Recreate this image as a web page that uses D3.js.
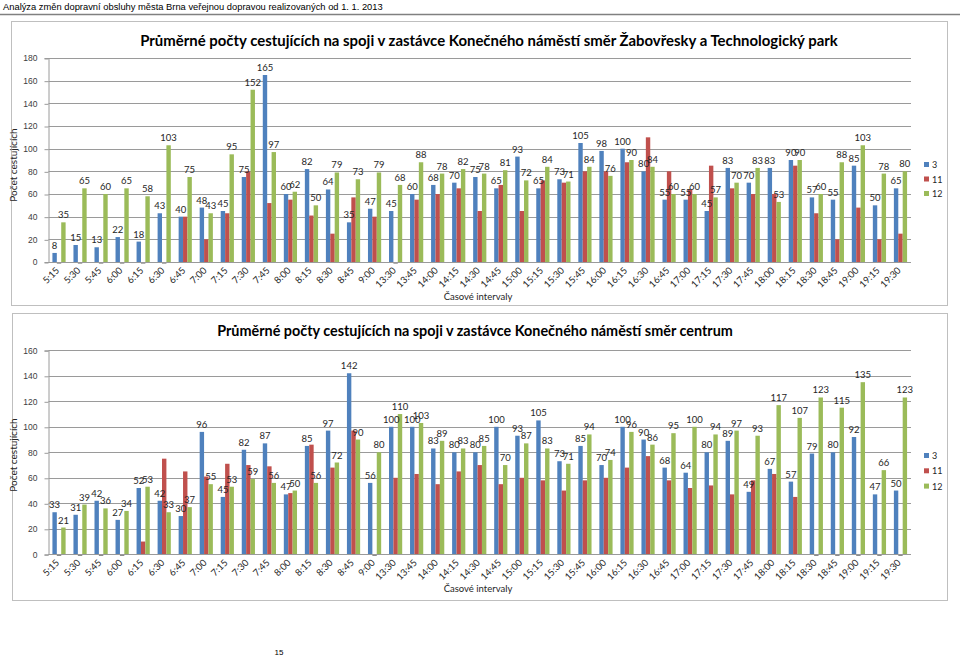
<!DOCTYPE html>
<html><head><meta charset="utf-8">
<script src="https://cdn.jsdelivr.net/npm/d3@7"></script>
<style>body{margin:0;background:#fff}svg{display:block}</style>
</head><body>
<svg id="c" width="960" height="657"></svg>
<script>
const categories = ["5:15","5:30","5:45","6:00","6:15","6:30","6:45","7:00","7:15","7:30","7:45","8:00","8:15","8:30","8:45","9:00","13:30","13:45","14:00","14:15","14:30","14:45","15:00","15:15","15:30","15:45","16:00","16:15","16:30","16:45","17:00","17:15","17:30","17:45","18:00","18:15","18:30","18:45","19:00","19:15","19:30"];
const seriesNames = ["3","11","12"];
const seriesColors = ["#4F81BD","#C0504D","#9BBB59"];
const labeledSeries = [true,false,true];

const top3  = [8,15,13,22,18,43,40,48,45,75,165,60,82,64,35,47,45,60,68,70,75,65,93,65,73,105,98,100,80,55,55,45,83,70,83,90,57,55,85,50,65];
const top11 = [0,0,0,0,0,0,40,20,43,80,52,55,41,25,57,40,0,55,60,65,45,68,45,72,70,80,80,88,110,80,64,85,65,60,60,85,43,20,48,20,25];
const top12 = [35,65,60,65,58,103,75,43,95,152,97,62,50,79,73,79,68,88,78,82,78,81,72,84,71,84,76,90,84,60,60,57,70,83,53,90,60,88,103,78,80];

const bot3  = [33,31,42,27,52,42,30,96,45,82,87,47,85,97,142,56,100,100,83,80,80,100,93,105,73,85,70,100,90,68,64,80,89,49,67,57,79,80,92,47,50];
const bot11 = [0,0,0,0,10,75,65,61,71,70,69,48,86,68,97,0,60,63,55,65,70,55,60,58,50,58,60,68,77,58,52,54,47,58,63,45,0,0,0,0,0];
const bot12 = [21,39,36,34,53,33,37,55,53,59,56,50,56,72,90,80,110,103,89,83,85,70,87,83,71,94,74,96,86,95,100,94,97,93,117,107,123,115,135,66,123];

const topTicks = [0,20,40,60,80,100,120,140,160,180];
const botTicks = [0,20,40,60,80,100,120,140,160];

const headerText = "Analýza změn dopravní obsluhy města Brna veřejnou dopravou realizovaných od 1. 1. 2013";
const topTitle = "Průměrné počty cestujících na spoji v zastávce Konečného náměstí směr Žabovřesky a Technologický park";
const botTitle = "Průměrné počty cestujících na spoji v zastávce Konečného náměstí směr centrum";
const yTitle = "Počet cestujících";
const xTitle = "Časové intervaly";
const pageNumber = "15";

const svg = d3.select("#c");
const FONT = "'Liberation Sans', Arial, sans-serif";
const CFONT = "Lato, 'Open Sans', sans-serif";

function fitText(sel, width){
  const w = sel.node().getComputedTextLength();
  const fs = parseFloat(sel.attr("font-size"));
  sel.attr("font-size", fs*width/w);
}

// header
const hdr = svg.append("text").attr("x",3).attr("y",10).attr("font-family",FONT).attr("font-size",10)
  .attr("fill","#000").text(headerText);
fitText(hdr, 380);
svg.append("line").attr("x1",0).attr("x2",960).attr("y1",14.5).attr("y2",14.5)
  .attr("stroke","#808080").attr("stroke-width",1.5);

function drawChart(o){
  const g = svg.append("g");
  g.append("rect").attr("x",o.frame[0]).attr("y",o.frame[1]).attr("width",o.frame[2]).attr("height",o.frame[3])
    .attr("fill","#fff").attr("stroke","#bfbfbf").attr("stroke-width",1);

  const x0 = d3.scaleBand().domain(categories).range([48.5,911]).paddingInner(0).paddingOuter(0);
  const bw = 4.4;
  const x1 = d3.scaleBand().domain(seriesNames).range([x0.bandwidth()/2 - bw*1.5, x0.bandwidth()/2 + bw*1.5]);
  const y = d3.scaleLinear().domain([0,o.max]).range([o.y0, o.y0-204]);

  // gridlines
  g.append("g").selectAll("line").data(o.ticks).join("line")
    .attr("x1",48.5).attr("x2",911).attr("y1",d=>Math.round(y(d))+0.5).attr("y2",d=>Math.round(y(d))+0.5)
    .attr("stroke","#9a9a9a").attr("stroke-width",1);

  // y axis
  const ya = g.append("g").attr("transform","translate(48.5,0)")
    .call(d3.axisLeft(y).tickValues(o.ticks).tickSize(4).tickPadding(7));
  ya.select(".domain").attr("stroke","#9a9a9a");
  ya.selectAll(".tick line").attr("stroke","#9a9a9a").attr("transform","translate(0,0.5)");
  ya.selectAll(".tick text").attr("font-family",FONT).attr("font-size",8.5).attr("fill","#404040");

  // bars
  const data = categories.map((c,i)=>({c, vals: o.series.map((s,k)=>({k, name: seriesNames[k], v: s[i]}))}));
  const grp = g.append("g").selectAll("g").data(data).join("g")
    .attr("transform",d=>`translate(${x0(d.c)},0)`);
  grp.selectAll("rect").data(d=>d.vals).join("rect")
    .attr("x",d=>x1(d.name)).attr("width",bw)
    .attr("y",d=>d.v>0 ? y(d.v) : y(0)+0.5)
    .attr("height",d=>d.v>0 ? y(0)-y(d.v) : 1.2)
    .attr("fill",d=>d.v>0 ? seriesColors[d.k] : "#8c8c8c");
  grp.selectAll("text").data(d=>d.vals.filter(v=>labeledSeries[v.k] && v.v>0)).join("text")
    .attr("x",d=>x1(d.name)+bw/2).attr("y",d=>y(d.v)-4)
    .attr("text-anchor","middle").attr("font-family",CFONT).attr("font-size",9.5).attr("fill","#262626")
    .text(d=>d.v);

  // x axis line
  g.append("line").attr("x1",48.5).attr("x2",911).attr("y1",Math.round(y(0))+0.5).attr("y2",Math.round(y(0))+0.5)
    .attr("stroke","#9a9a9a");
  // x labels
  g.append("g").selectAll("text").data(categories).join("text")
    .attr("transform",d=>`translate(${x0(d)+x0.bandwidth()/2+1},${o.y0+9}) rotate(-45)`)
    .attr("text-anchor","end").attr("font-family",CFONT).attr("font-size",9.5).attr("fill","#262626")
    .text(d=>d);

  // titles
  const t = g.append("text").attr("x",o.titleX).attr("y",o.titleY).attr("text-anchor","middle")
    .attr("font-family",CFONT).attr("font-weight","bold").attr("font-size",16).attr("fill","#000").text(o.title);
  fitText(t, o.titleW);
  g.append("text").attr("transform",`translate(${o.yTitleX},${o.yTitleY}) rotate(-90)`).attr("text-anchor","middle")
    .attr("font-family",CFONT).attr("font-size",10).attr("fill","#262626").text(yTitle);
  g.append("text").attr("x",o.xTitleX).attr("y",o.xTitleY).attr("text-anchor","middle")
    .attr("font-family",CFONT).attr("font-size",9.5).attr("fill","#262626").text(xTitle);

  // legend
  const lg = g.append("g").selectAll("g").data(seriesNames).join("g")
    .attr("transform",(d,i)=>`translate(924,${o.legY + i*o.legStep})`);
  lg.append("rect").attr("x",0).attr("y",-3).attr("width",5).attr("height",5).attr("fill",(d,i)=>seriesColors[i]);
  lg.append("text").attr("x",8).attr("y",3).attr("font-family",CFONT).attr("font-size",9).attr("fill","#262626").text(d=>d);
}

drawChart({frame:[11.5,21.5,936,284], max:180, ticks:topTicks, y0:262, series:[top3,top11,top12],
  title:topTitle, titleX:489, titleY:46, titleW:698, yTitleX:17, yTitleY:165, xTitleX:478, xTitleY:300,
  legY:165, legStep:14.5});
drawChart({frame:[12.5,313.5,935,287], max:160, ticks:botTicks, y0:554.3, series:[bot3,bot11,bot12],
  title:botTitle, titleX:475, titleY:336, titleW:516, yTitleX:17, yTitleY:455, xTitleX:478, xTitleY:592,
  legY:456, legStep:15.3});

svg.append("text").attr("x",279).attr("y",655).attr("text-anchor","middle").attr("font-family",FONT)
  .attr("font-size",8).attr("fill","#000").text(pageNumber);
</script>
</body></html>
